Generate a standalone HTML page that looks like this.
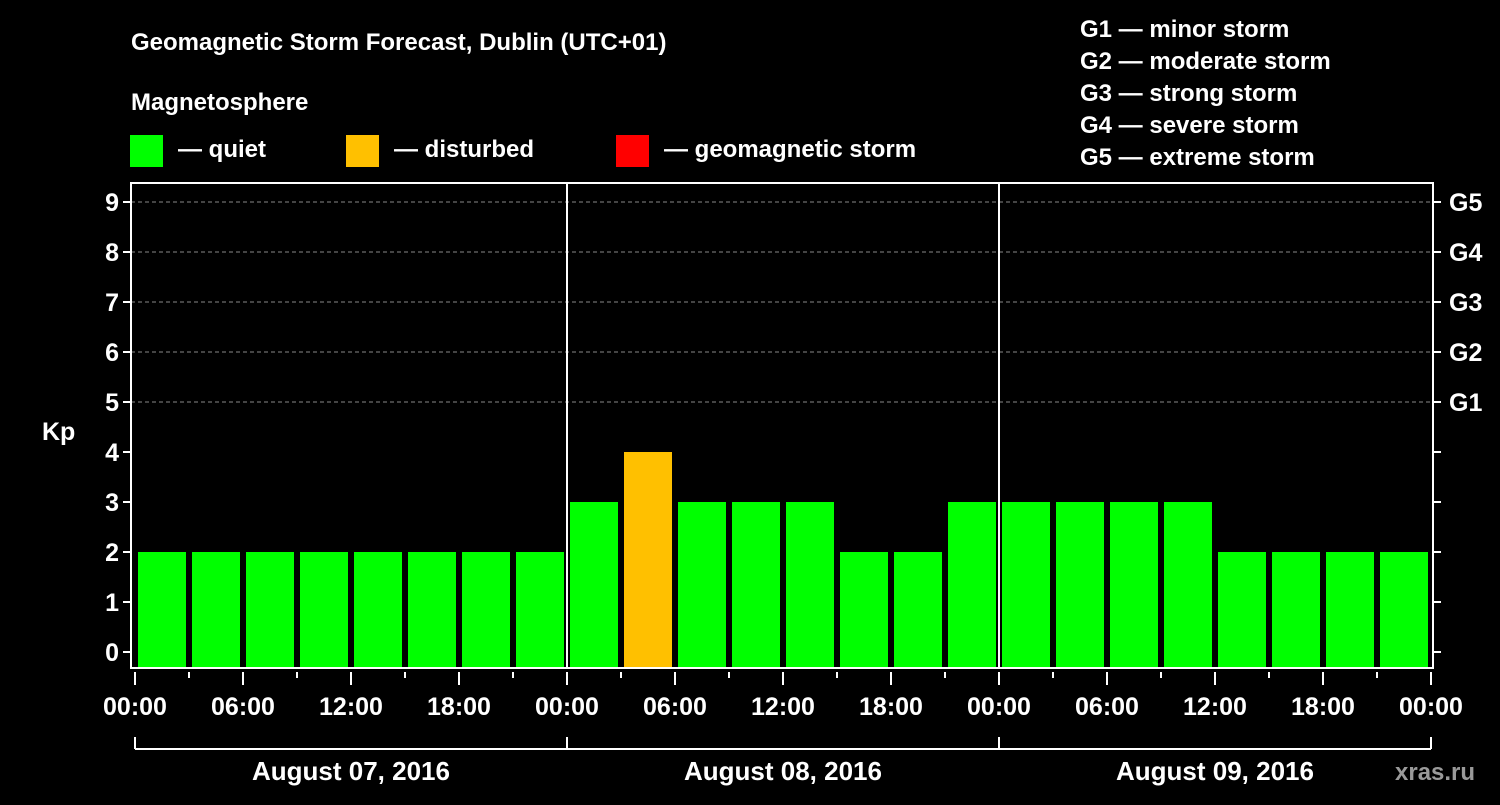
<!DOCTYPE html>
<html><head><meta charset="utf-8"><style>
html,body{margin:0;padding:0;background:#000;}
svg text{font-family:"Liberation Sans",Arial,sans-serif;font-weight:bold;fill:#fff;}
</style></head><body>
<svg id="chart" width="1500" height="800" viewBox="0 0 1500 800" xmlns="http://www.w3.org/2000/svg">
<rect width="1500" height="800" fill="#000"/>
<text x="131" y="50" font-size="24">Geomagnetic Storm Forecast, Dublin (UTC+01)</text>
<text x="131" y="110" font-size="24">Magnetosphere</text>
<g><rect x="130" y="135" width="33" height="32" fill="#00ff00"/><text x="178" y="157" font-size="24">— quiet</text></g>
<g><rect x="346" y="135" width="33" height="32" fill="#ffc000"/><text x="394" y="157" font-size="24">— disturbed</text></g>
<g><rect x="616" y="135" width="33" height="32" fill="#ff0000"/><text x="664" y="157" font-size="24">— geomagnetic storm</text></g>
<g font-size="24">
<text x="1080" y="37">G1 — minor storm</text>
<text x="1080" y="69">G2 — moderate storm</text>
<text x="1080" y="101">G3 — strong storm</text>
<text x="1080" y="133">G4 — severe storm</text>
<text x="1080" y="165">G5 — extreme storm</text>
</g>
<g id="grid"></g>
<g id="bars"></g>
<g id="axes"></g>
<text x="738" y="2" font-size="1" fill="#000"> </text>
<text x="1395" y="780" font-size="24" fill="#aaa" style="fill:#9a9a9a">xras.ru</text>
</svg>
<script>
const kpValues = [2,2,2,2,2,2,2,2,2,3,4,3,3,3,2,2,3,3,3,3,3,2,2,2,2];
const yTicks = [0,1,2,3,4,5,6,7,8,9];
const gLabels = ["G1","G2","G3","G4","G5"];
const gLevels = [5,6,7,8,9];
const timeLabels = ["00:00","06:00","12:00","18:00","00:00","06:00","12:00","18:00","00:00","06:00","12:00","18:00","00:00"];
const dateLabels = ["August 07, 2016","August 08, 2016","August 09, 2016"];

const NS="http://www.w3.org/2000/svg";
const L=131,R=1433,T=183,B=668, X0=135, HOUR=18;
const y=v=>652-50*v;
const xh=h=>X0+HOUR*h;
function mk(tag,attrs,parent){const e=document.createElementNS(NS,tag);for(const k in attrs)e.setAttribute(k,attrs[k]);parent.appendChild(e);return e;}
const grid=document.getElementById('grid'),bars=document.getElementById('bars'),axes=document.getElementById('axes');
gLevels.forEach(v=>{const l=mk('line',{x1:L,x2:R,y1:y(v),y2:y(v),stroke:'#888','stroke-dasharray':'4,3','stroke-width':1},grid);

});
const clipL=136,clipR=1428;
kpValues.forEach((v,i)=>{const c=xh(-1.5+3*i);let x1=c-24,x2=c+24;x1=Math.max(x1,clipL);x2=Math.min(x2,clipR);
const col=v>=5?'#ff0000':(v>=4?'#ffc000':'#00ff00');
const r=mk('rect',{x:x1,y:y(v),width:x2-x1,height:B-y(v),fill:col},bars);

});
// frame
const f=mk('rect',{x:L,y:T,width:R-L,height:B-T,fill:'none',stroke:'#fff','stroke-width':2},axes);


[1,2].forEach(d=>{const l=mk('line',{x1:xh(24*d),x2:xh(24*d),y1:T,y2:B,stroke:'#fff','stroke-width':2},axes);

});
yTicks.forEach(v=>{mk('line',{x1:L-8,x2:L,y1:y(v),y2:y(v),stroke:'#fff','stroke-width':2},axes);
mk('line',{x1:R,x2:R+8,y1:y(v),y2:y(v),stroke:'#fff','stroke-width':2},axes);
const t=mk('text',{x:L-12,y:y(v)+9,'font-size':25,'text-anchor':'end'},axes);t.textContent=v;

});
gLevels.forEach((v,i)=>{const t=mk('text',{x:1449,y:y(v)+9,'font-size':25},axes);t.textContent=gLabels[i];

});
const kp=mk('text',{x:42,y:440,'font-size':25},axes);kp.textContent='Kp';


for(let h=0;h<=72;h+=3){const major=h%6===0;mk('line',{x1:xh(h),x2:xh(h),y1:672,y2:major?685:678,stroke:'#fff','stroke-width':2},axes);}
timeLabels.forEach((s,i)=>{const t=mk('text',{x:xh(6*i),y:715,'font-size':25,'text-anchor':'middle'},axes);t.textContent=s;

});
mk('line',{x1:xh(0),x2:xh(72),y1:749,y2:749,stroke:'#fff','stroke-width':2},axes);
for(let d=0;d<=3;d++)mk('line',{x1:xh(24*d),x2:xh(24*d),y1:737,y2:749,stroke:'#fff','stroke-width':2},axes);
dateLabels.forEach((s,i)=>{const t=mk('text',{x:xh(24*i+12),y:780,'font-size':26,'text-anchor':'middle'},axes);t.textContent=s;

});
</script>
</body></html>
